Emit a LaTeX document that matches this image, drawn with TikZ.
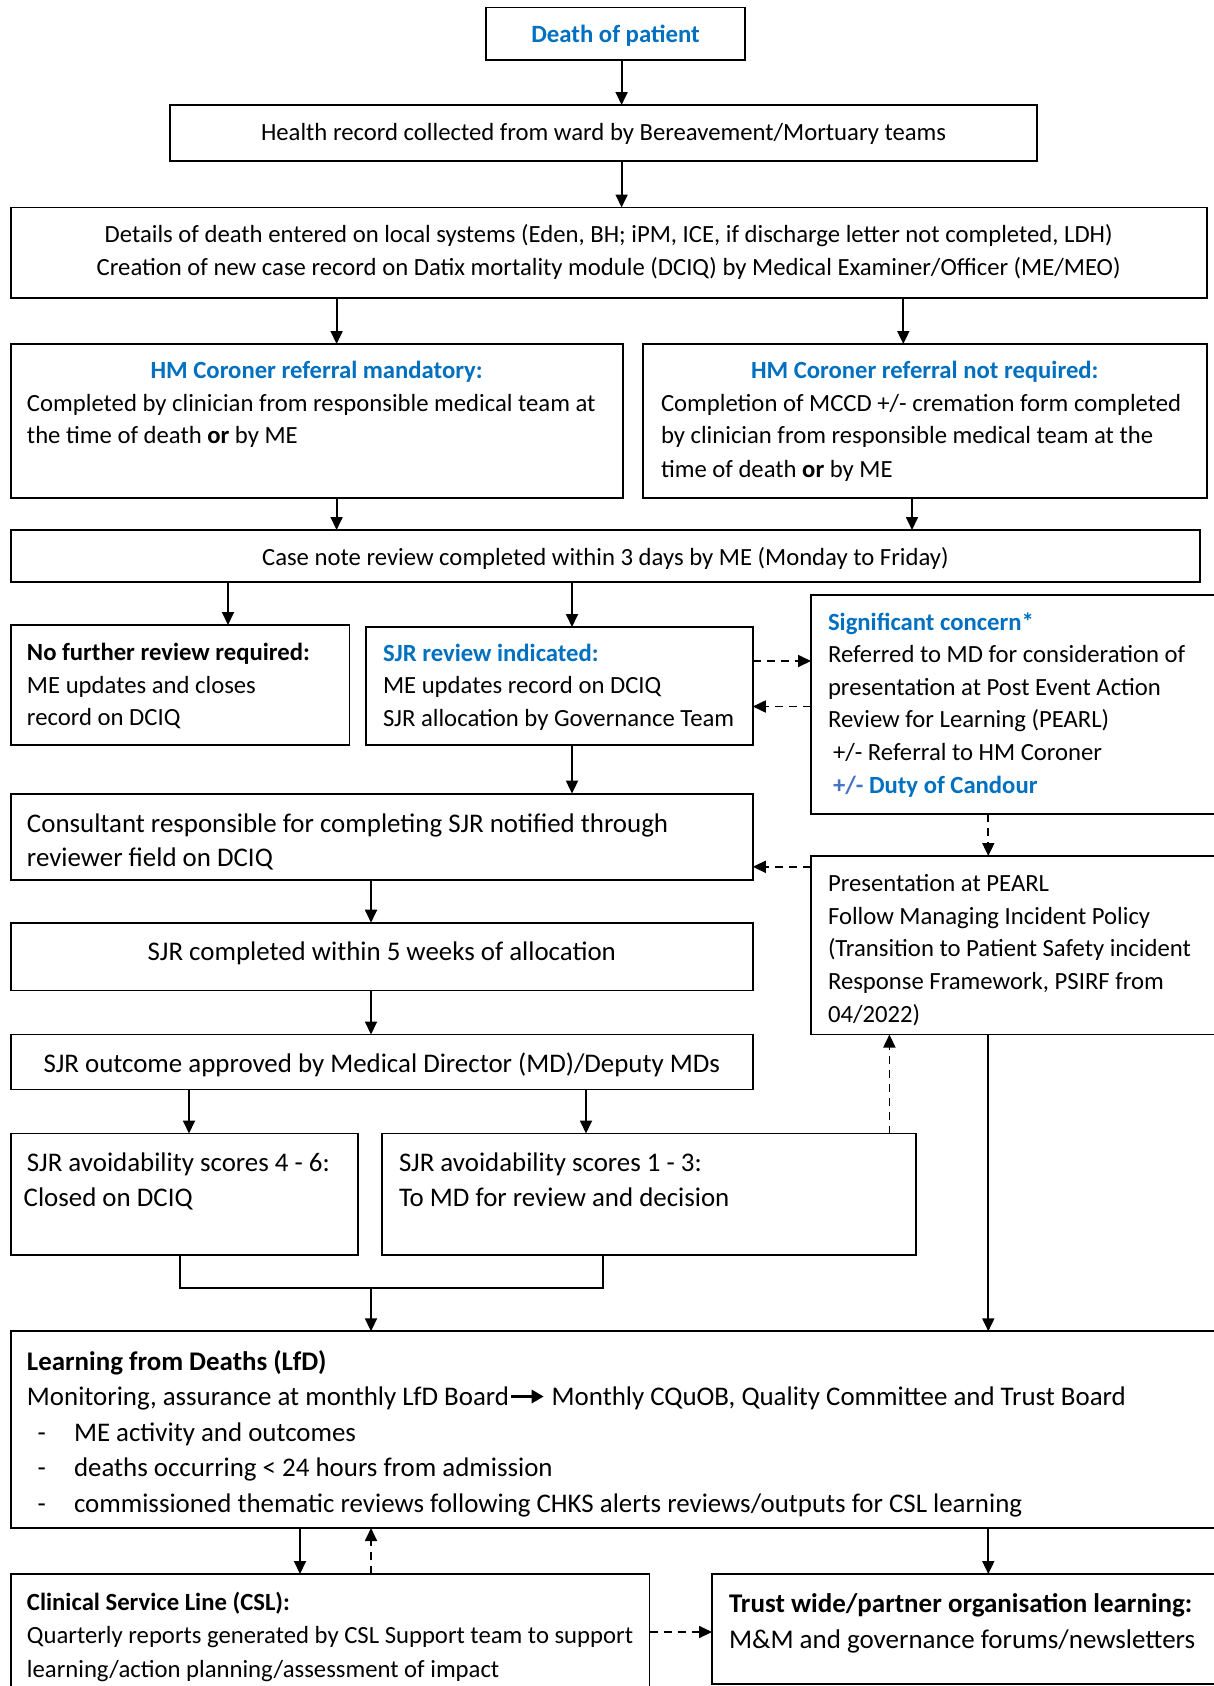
\documentclass[tikz,border=0pt]{standalone}
\usepackage{fontspec}
\setmainfont{Carlito}
\usetikzlibrary{arrows.meta}
\definecolor{hdblue}{RGB}{0,112,192}
\definecolor{ltblue}{RGB}{68,114,196}
\newcommand{\BOX}[5]{\node[box, anchor=north west, minimum width={#4pt-#2pt}, minimum height={#5pt-#3pt}] (#1) at (#2,#3) {};}
\newcommand{\TL}[5][fa]{\node[txt,#1,anchor=base west] (#2) at (#3,#4) {#5};}
\newcommand{\TC}[5][fa]{\node[txt,#1,anchor=base] (#2) at (#3,#4) {#5};}
\begin{document}
\begin{tikzpicture}[x=1pt,y=-1pt,
  box/.style={draw, line width=1.8pt, inner sep=0pt, outer sep=0pt},
  txt/.style={inner sep=0pt, outer sep=0pt},
  fa/.style={font=\fontsize{24.7}{29}\selectfont},
  fb/.style={font=\fontsize{26.9}{31}\selectfont},
  fc/.style={font=\fontsize{27}{32}\selectfont},
  hd/.style={text=hdblue, font=\bfseries\fontsize{24.7}{29}\selectfont},
  arr/.style={line width=1.8pt, -{Triangle[length=13pt,width=12pt]}},
  darr/.style={arr, dash pattern=on 8pt off 6pt}]
\useasboundingbox (0,0) rectangle (1213,1686);
\fill[white] (0,0) rectangle (1213,1686);

% boxes
\BOX{dop}{486}{7.5}{745}{60}
\BOX{hr}{170}{105}{1037}{161}
\BOX{det}{10.8}{207.5}{1206.6}{298}
\BOX{cml}{10.8}{344}{622.7}{498}
\BOX{cnr}{643}{344}{1206.6}{498}
\BOX{cnrev}{10.8}{530}{1200}{582}
\BOX{nfr}{10.8}{625}{349.5}{745}
\BOX{sjr}{365.6}{627}{752.8}{745}
\BOX{sig}{811}{595}{1230}{814}
\BOX{cons}{10.8}{793.6}{752.8}{879.7}
\BOX{pres}{811}{856}{1230}{1034.5}
\BOX{comp}{10.8}{922.7}{752.8}{990.5}
\BOX{outc}{10.8}{1034.5}{752.8}{1089.4}
\BOX{sc46}{10.8}{1133.5}{358}{1255}
\BOX{sc13}{381.8}{1133.5}{916.2}{1255}
\BOX{lfd}{10.8}{1331.3}{1230}{1528}
\BOX{csl}{10.8}{1574}{649.5}{1700}
\BOX{trust}{712}{1574}{1230}{1684}

% x positions for connectors
\coordinate (xa) at (621.6,0);
\coordinate (xb) at (336.6,0);
\coordinate (xc) at (903.3,0);
\coordinate (xd) at (912,0);
\coordinate (xe) at (228,0);
\coordinate (xf) at (572,0);
\coordinate (xg) at (988.3,0);
\coordinate (xh) at (371,0);
\coordinate (xi) at (189,0);
\coordinate (xj) at (586,0);
\coordinate (xk) at (889.4,0);
\coordinate (xl) at (179.6,0);
\coordinate (xm) at (603.3,0);
\coordinate (xn) at (300,0);
\coordinate (ya) at (0,661);
\coordinate (yb) at (0,706.5);
\coordinate (yc) at (0,866.8);
\coordinate (yd) at (0,1632);
\coordinate (br1) at (179.6,1288.3);
\coordinate (br2) at (603.3,1288.3);
\coordinate (brm) at (371,1288.3);

% solid arrows
\draw[arr] (dop.south -| xa) -- (hr.north -| xa);
\draw[arr] (hr.south -| xa) -- (det.north -| xa);
\draw[arr] (det.south -| xb) -- (cml.north -| xb);
\draw[arr] (det.south -| xc) -- (cnr.north -| xc);
\draw[arr] (cml.south -| xb) -- (cnrev.north -| xb);
\draw[arr] (cnr.south -| xd) -- (cnrev.north -| xd);
\draw[arr] (cnrev.south -| xe) -- (nfr.north -| xe);
\draw[arr] (cnrev.south -| xf) -- (sjr.north -| xf);
\draw[arr] (sjr.south -| xf) -- (cons.north -| xf);
\draw[arr] (cons.south -| xh) -- (comp.north -| xh);
\draw[arr] (comp.south -| xh) -- (outc.north -| xh);
\draw[arr] (outc.south -| xi) -- (sc46.north -| xi);
\draw[arr] (outc.south -| xj) -- (sc13.north -| xj);
\draw[line width=1.8pt] (sc46.south -| xl) -- (br1) -- (br2) -- (sc13.south -| xm);
\draw[arr] (brm) -- (lfd.north -| brm);
\draw[arr] (pres.south -| xg) -- (lfd.north -| xg);
\draw[arr] (lfd.south -| xn) -- (csl.north -| xn);
\draw[arr] (lfd.south -| xg) -- (trust.north -| xg);

% dashed arrows
\draw[darr] (sjr.east |- ya) -- (sig.west |- ya);
\draw[darr] (sig.west |- yb) -- (sjr.east |- yb);
\draw[darr] (sig.south -| xg) -- (pres.north -| xg);
\draw[darr] (pres.west |- yc) -- (cons.east |- yc);
\draw[darr] (sc13.north -| xk) -- (pres.south -| xk);
\draw[darr] (csl.north -| xh) -- (lfd.south -| xh);
\draw[darr] (csl.east |- yd) -- (trust.west |- yd);

% texts
\node[txt,hd,anchor=base,font=\bfseries\fontsize{24.8}{29}\selectfont] (t1) at (615.5,43) {Death of patient};
\TC{t2}{603.5}{140}{Health record collected from ward by Bereavement/Mortuary teams}
\TC{t3}{608.7}{242}{Details of death entered on local systems (Eden, BH; iPM, ICE, if discharge letter not completed, LDH)}
\TC{t4}{608.7}{275}{Creation of new case record on Datix mortality module (DCIQ) by Medical Examiner/Officer (ME/MEO)}

\node[txt,hd,anchor=base] (t5) at (316.7,378) {HM Coroner referral mandatory:};
\TL{t6}{27}{411}{Completed by clinician from responsible medical team at}
\TL{t7}{27}{443.5}{the time of death \textbf{or} by ME}

\node[txt,hd,anchor=base] (t8) at (924.8,378) {HM Coroner referral not required:};
\TL{t9}{661}{411}{Completion of MCCD +/- cremation form completed}
\TL{t10}{661}{443.5}{by clinician from responsible medical team at the}
\TL{t11}{661}{477}{time of death \textbf{or} by ME}

\TC{t12}{605.4}{565}{Case note review completed within 3 days by ME (Monday to Friday)}

\TL[fa,font=\bfseries\fontsize{24.7}{29}\selectfont]{t13}{27}{660}{No further review required:}
\TL{t14}{27}{693}{ME updates and closes}
\TL{t15}{27}{725}{record on DCIQ}

\node[txt,hd,anchor=base west] (t16) at (383,661) {SJR review indicated:};
\TL{t17}{383}{693}{ME updates record on DCIQ}
\TL{t18}{383}{726}{SJR allocation by Governance Team}

\node[txt,hd,anchor=base west] (t19) at (828,630) {Significant concern*};
\TL{t20}{828}{662}{Referred to MD for consideration of}
\TL{t21}{828}{695}{presentation at Post Event Action}
\TL{t22}{828}{727.5}{Review for Learning (PEARL)}
\TL{t23}{833}{760}{+/- Referral to HM Coroner}
\TL{t24}{833}{793}{\textcolor{ltblue}{\bfseries +/-} \textcolor{hdblue}{\bfseries Duty of Candour}}

\TL[fb]{t25}{27}{832}{Consultant responsible for completing SJR notified through}
\TL[fb]{t26}{27}{866}{reviewer field on DCIQ}

\TL{t27}{828}{891}{Presentation at PEARL}
\TL{t28}{828}{924}{Follow Managing Incident Policy}
\TL{t29}{828}{956.5}{(Transition to Patient Safety incident}
\TL{t30}{828}{989}{Response Framework, PSIRF from}
\TL{t31}{828}{1022}{04/2022)}

\TC[fb]{t32}{381.8}{960}{SJR completed within 5 weeks of allocation}
\TC[fb]{t33}{381.8}{1072}{SJR outcome approved by Medical Director (MD)/Deputy MDs}

\TL[fb]{t34}{27}{1171}{SJR avoidability scores 4 - 6:}
\TL[fb]{t35}{23.7}{1206}{Closed on DCIQ}
\TL[fb]{t36}{399}{1171}{SJR avoidability scores 1 - 3:}
\TL[fb]{t37}{399}{1206}{To MD for review and decision}

\TL[fb,font=\bfseries\fontsize{26.9}{31}\selectfont]{t38}{27}{1370}{Learning from Deaths (LfD)}
\TL[fb]{t39a}{27}{1405}{Monitoring, assurance at monthly LfD Board}
\TL[fb]{t39b}{551.7}{1405}{Monthly CQuOB, Quality Committee and Trust Board}
\draw[line width=3.2pt, -{Triangle[length=12pt,width=13pt]}] ([xshift=2pt,yshift=8.5pt]t39a.base east) -- ([xshift=-8pt,yshift=8.5pt]t39b.base west);
\TL[fb]{t40}{37.6}{1441}{-}
\TL[fb]{t41}{74}{1441}{ME activity and outcomes}
\TL[fb]{t42}{37.6}{1476}{-}
\TL[fb]{t43}{74}{1476}{deaths occurring < 24 hours from admission}
\TL[fb]{t44}{37.6}{1512}{-}
\TL[fb]{t45}{74}{1512}{commissioned thematic reviews following CHKS alerts reviews/outputs for CSL learning}

\TL[fa,font=\bfseries\fontsize{24.7}{29}\selectfont]{t46}{27}{1610}{Clinical Service Line (CSL):}
\TL{t47}{27}{1643}{Quarterly reports generated by CSL Support team to support}
\TL{t48}{27}{1677}{learning/action planning/assessment of impact}

\TL[fc,font=\bfseries\fontsize{27}{32}\selectfont]{t49}{729}{1612}{Trust wide/partner organisation learning:}
\TL[fc]{t50}{729}{1648}{M\&M and governance forums/newsletters}
\end{tikzpicture}
\end{document}
